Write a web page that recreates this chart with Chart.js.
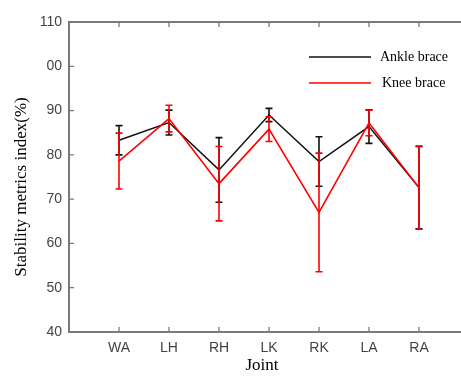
<!DOCTYPE html>
<html>
<head>
<meta charset="utf-8">
<script src="https://cdn.jsdelivr.net/npm/chart.js@4/dist/chart.umd.min.js"></script>
<style>
  html, body { margin: 0; padding: 0; background: #fff; }
  #wrap { width: 461px; height: 376px; }
</style>
</head>
<body>
<div id="wrap"><canvas id="c" width="461" height="376"></canvas></div>
<script>
const joints = ['WA', 'LH', 'RH', 'LK', 'RK', 'LA', 'RA'];
const ankleMean = [83.3, 87.3, 76.6, 89.0, 78.5, 86.4, 72.6];
const ankleErr = [3.3, 2.8, 7.3, 1.5, 5.6, 3.8, 9.3];
const kneeMean = [78.6, 88.2, 73.5, 85.8, 67.0, 87.2, 72.6];
const kneeErr = [6.3, 3.0, 8.4, 2.8, 13.4, 2.9, 9.4];
const yTicks = [40, 50, 60, 70, 80, 90, 100, 110];
const yTickText = ['40', '50', '60', '70', '80', '90', '00', '110'];

const AXIS = '#7a7a7a';
const SERIF = '"Liberation Serif", "DejaVu Serif", serif';
const SANS = '"Liberation Sans", Arial, sans-serif';

const toPoints = (vals) => vals.map((v, i) => ({ x: i + 1, y: v }));

const errorBars = {
  id: 'errorBars',
  afterDatasetDraw(chart, args) {
    const ds = chart.data.datasets[args.index];
    const x = chart.scales.x, y = chart.scales.y;
    const ctx = chart.ctx;
    ctx.save();
    ctx.strokeStyle = ds.borderColor;
    ctx.lineWidth = 1.6;
    ds.data.forEach((p, i) => {
      const e = ds.errors[i];
      const px = x.getPixelForValue(p.x);
      const top = y.getPixelForValue(p.y + e);
      const bot = y.getPixelForValue(p.y - e);
      ctx.beginPath();
      ctx.moveTo(px, top); ctx.lineTo(px, bot);
      ctx.moveTo(px - 3.5, top); ctx.lineTo(px + 3.5, top);
      ctx.moveTo(px - 3.5, bot); ctx.lineTo(px + 3.5, bot);
      ctx.stroke();
    });
    ctx.restore();
  }
};

const frame = {
  id: 'frame',
  afterDraw(chart) {
    const { ctx, chartArea: a } = chart;
    const x = chart.scales.x, y = chart.scales.y;
    ctx.save();
    ctx.strokeStyle = AXIS;
    ctx.lineWidth = 2;
    // top border
    ctx.beginPath();
    ctx.moveTo(a.left - 1, a.top); ctx.lineTo(a.right, a.top);
    ctx.stroke();
    // inward ticks
    ctx.lineWidth = 1.3;
    ctx.beginPath();
    joints.forEach((j, i) => {
      const px = x.getPixelForValue(i + 1);
      ctx.moveTo(px, a.top); ctx.lineTo(px, a.top + 5);
      ctx.moveTo(px, a.bottom); ctx.lineTo(px, a.bottom - 5);
    });
    yTicks.forEach(v => {
      const py = y.getPixelForValue(v);
      ctx.moveTo(a.left, py); ctx.lineTo(a.left + 5, py);
    });
    ctx.stroke();

    // axis titles
    ctx.fillStyle = '#000';
    ctx.font = '17px ' + SERIF;
    ctx.textAlign = 'center';
    ctx.textBaseline = 'middle';
    ctx.fillText('Joint', 262, 366);
    ctx.save();
    ctx.translate(22, 187);
    ctx.rotate(-Math.PI / 2);
    ctx.fillText('Stability metrics index(%)', 0, 0);
    ctx.restore();

    // legend
    ctx.font = '14px ' + SERIF;
    ctx.textAlign = 'left';
    chart.data.datasets.forEach((ds, i) => {
      const ly = 57 + i * 26;
      ctx.strokeStyle = ds.borderColor;
      ctx.lineWidth = 1.5;
      ctx.beginPath();
      ctx.moveTo(309, ly); ctx.lineTo(371, ly);
      ctx.stroke();
      ctx.fillText(ds.label, i === 0 ? 380 : 382, ly);
    });
    ctx.restore();
  }
};

new Chart(document.getElementById('c'), {
  type: 'line',
  data: {
    datasets: [
      {
        label: 'Ankle brace',
        data: toPoints(ankleMean),
        errors: ankleErr,
        borderColor: '#111111',
        borderWidth: 1.5,
        pointRadius: 0,
        tension: 0,
        order: 1
      },
      {
        label: 'Knee brace',
        data: toPoints(kneeMean),
        errors: kneeErr,
        borderColor: '#ff0000',
        borderWidth: 1.6,
        pointRadius: 0,
        tension: 0,
        order: 0
      }
    ]
  },
  options: {
    responsive: false,
    animation: false,
    layout: { padding: { top: 22, right: 0, left: 0, bottom: 0 } },
    plugins: { legend: { display: false }, tooltip: { enabled: false } },
    scales: {
      x: {
        type: 'linear',
        min: 0,
        max: 7.84,
        afterBuildTicks: (s) => { s.ticks = joints.map((j, i) => ({ value: i + 1 })); },
        afterFit: (s) => { s.height = 44; },
        ticks: {
          callback: (v) => joints[v - 1],
          color: '#444',
          font: { family: SANS, size: 14 },
          padding: 8,
          maxRotation: 0,
          autoSkip: false
        },
        grid: { display: false, drawTicks: false },
        border: { display: true, color: AXIS, width: 2 }
      },
      y: {
        min: 40,
        max: 110,
        afterBuildTicks: (s) => { s.ticks = yTicks.map(v => ({ value: v })); },
        afterFit: (s) => { s.width = 69; },
        ticks: {
          callback: (v) => yTickText[yTicks.indexOf(v)],
          color: '#444',
          font: { family: SANS, size: 14 },
          padding: 7
        },
        grid: { display: false, drawTicks: false },
        border: { display: true, color: AXIS, width: 2 }
      }
    }
  },
  plugins: [errorBars, frame]
});
</script>
</body>
</html>
